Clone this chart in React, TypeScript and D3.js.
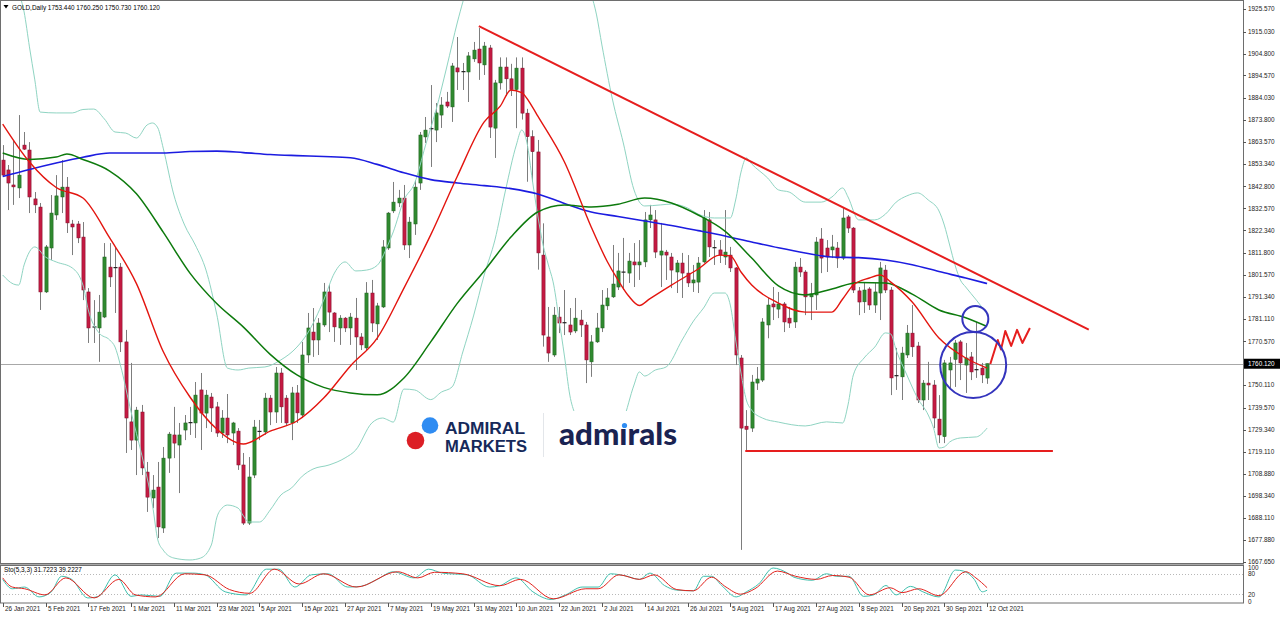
import React from 'react';
import * as d3 from 'd3';

// ---------- DATA ----------
const dateLabels = ["26 Jan 2021","5 Feb 2021","17 Feb 2021","1 Mar 2021","11 Mar 2021","23 Mar 2021","5 Apr 2021","15 Apr 2021","27 Apr 2021","7 May 2021","19 May 2021","31 May 2021","10 Jun 2021","22 Jun 2021","2 Jul 2021","14 Jul 2021","26 Jul 2021","5 Aug 2021","17 Aug 2021","27 Aug 2021","8 Sep 2021","20 Sep 2021","30 Sep 2021","12 Oct 2021"];
const priceTicks = [1925.57,1915.03,1904.80,1894.57,1884.03,1873.80,1863.57,1853.34,1842.80,1832.57,1822.34,1811.80,1801.57,1791.34,1781.11,1770.57,1750.11,1739.57,1729.34,1719.11,1708.88,1698.34,1688.11,1677.88,1667.65];
const lastPrice = 1760.12;
const header = "GOLD,Daily  1753.440 1760.250 1750.730 1760.120";
const stoHeader = "Sto(5,3,3) 31.7223 39.2227";

const opens = [
1855.1,1850.5,1843.5,1842.1,1862.1,1859.8,1837.0,1833.2,1793.6,1814.1,
1829.5,1837.9,1842.5,1825.3,1825.3,1819.2,1793.6,1777.3,1776.8,1781.9,
1805.2,1805.0,1805.2,1770.3,1733.0,1724.5,1737.6,1709.6,1697.5,1702.6,
1683.5,1716.1,1726.9,1722.2,1729.2,1732.7,1732.5,1747.9,1737.1,1744.6,
1740.0,1727.8,1734.8,1727.8,1728.7,1712.9,1685.8,1708.2,1728.6,1728.3,
1744.1,1737.6,1755.8,1744.1,1732.5,1746.5,1736.2,1764.2,1774.9,1771.2,
1778.2,1793.6,1783.8,1776.8,1781.4,1776.8,1781.4,1772.6,1767.5,1793.1,
1778.7,1786.6,1814.1,1831.4,1835.1,1837.4,1815.5,1825.3,1844.4,1865.9,
1869.4,1869.1,1876.1,1882.2,1879.9,1898.1,1896.4,1896.2,1902.3,1906.9,
1899.5,1907.4,1870.0,1891.1,1898.5,1893.0,1888.0,1898.0,1877.0,1866.0,
1858.9,1810.8,1772.6,1764.2,1781.9,1779.3,1778.2,1775.4,1780.5,1778.2,
1761.0,1770.3,1776.8,1787.1,1791.3,1795.9,1802.9,1802.4,1807.6,1806.2,
1807.6,1827.2,1827.2,1810.8,1812.2,1809.9,1802.9,1807.1,1802.4,1797.8,
1798.2,1807.6,1827.2,1814.3,1813.2,1809.9,1810.8,1804.8,1762.8,1731.0,
1730.1,1751.1,1752.5,1778.2,1788.0,1785.6,1788.0,1781.4,1779.6,1805.2,
1802.9,1791.3,1792.2,1818.3,1814.1,1813.2,1814.1,1809.4,1828.6,1823.4,
1794.1,1789.0,1795.0,1787.5,1793.1,1803.8,1794.5,1754.6,1754.0,1764.2,
1774.4,1768.4,1743.2,1751.1,1750.2,1734.3,1726.1,1757.2,1762.1,1770.3,
1759.5,1763.3,1757.4,1758.1,1753.44];
const highs = [
1862.1,1852.8,1864.5,1876.1,1868.2,1863.5,1840.2,1835.1,1815.5,1838.8,
1848.1,1855.1,1847.2,1827.2,1826.7,1826.2,1795.4,1789.8,1792.2,1816.4,
1816.4,1814.1,1807.1,1775.9,1760.5,1740.0,1740.9,1714.3,1708.2,1714.3,
1721.3,1728.3,1740.0,1732.5,1736.2,1740.0,1751.6,1755.8,1747.9,1746.5,
1742.3,1738.5,1746.0,1733.0,1730.1,1718.5,1716.6,1733.9,1733.9,1746.5,
1745.5,1758.6,1758.1,1745.5,1749.3,1750.2,1770.3,1783.8,1786.1,1781.4,
1797.8,1796.8,1784.2,1782.8,1781.9,1783.8,1790.8,1774.4,1798.2,1799.2,
1788.5,1817.8,1830.9,1844.9,1841.2,1843.5,1828.6,1845.8,1868.2,1875.2,
1890.1,1881.7,1884.5,1886.9,1900.4,1912.5,1900.4,1905.5,1910.2,1916.7,
1910.2,1908.8,1892.5,1903.0,1903.0,1900.0,1903.0,1903.0,1879.0,1869.0,
1864.5,1825.6,1786.6,1786.6,1786.6,1794.5,1786.1,1790.8,1785.2,1779.6,
1773.5,1783.8,1794.5,1795.4,1815.5,1811.8,1818.8,1811.8,1816.4,1817.8,
1830.9,1834.2,1831.8,1825.8,1813.2,1811.8,1808.5,1811.8,1810.8,1806.2,
1809.9,1831.8,1830.9,1817.8,1817.8,1831.8,1814.6,1805.2,1764.2,1738.5,
1754.9,1758.6,1781.4,1790.8,1795.9,1793.6,1788.9,1786.6,1807.6,1809.4,
1803.8,1797.8,1819.2,1823.4,1817.8,1820.2,1816.9,1833.2,1829.5,1823.9,
1795.9,1798.2,1795.9,1797.8,1807.6,1806.2,1795.9,1767.5,1768.0,1778.2,
1787.5,1770.3,1752.5,1761.0,1752.5,1745.5,1761.9,1763.3,1771.2,1771.2,
1769.8,1765.6,1779.6,1760.5,1760.25];
const lows = [
1847.2,1831.8,1834.2,1837.4,1859.8,1830.4,1830.4,1785.2,1793.1,1808.5,
1827.2,1830.4,1821.1,1810.8,1816.4,1789.8,1769.8,1769.8,1761.0,1781.4,
1795.9,1783.8,1765.6,1718.5,1719.9,1708.2,1708.2,1691.0,1692.8,1678.8,
1681.2,1709.2,1716.1,1699.8,1724.5,1726.9,1725.5,1719.9,1730.1,1728.3,
1726.0,1725.5,1723.1,1722.2,1710.6,1684.9,1684.9,1706.8,1724.5,1727.0,
1731.5,1732.5,1732.5,1731.5,1724.5,1732.5,1734.8,1760.5,1763.3,1764.2,
1777.3,1774.9,1770.3,1768.9,1774.9,1768.9,1757.2,1766.5,1766.5,1774.9,
1771.2,1786.1,1813.2,1830.4,1833.2,1813.2,1809.4,1820.2,1841.2,1863.1,
1851.9,1863.5,1870.1,1879.4,1872.9,1887.8,1887.8,1882.2,1900.9,1892.5,
1894.8,1865.4,1856.1,1888.0,1885.0,1885.0,1870.0,1874.0,1845.0,1845.0,
1804.0,1768.1,1761.0,1763.3,1774.4,1773.5,1773.5,1774.4,1772.6,1751.1,
1754.0,1769.8,1774.9,1785.2,1790.8,1794.5,1794.5,1797.8,1795.9,1799.2,
1805.2,1823.4,1809.4,1795.9,1799.2,1795.4,1793.1,1790.8,1795.9,1793.6,
1793.1,1807.1,1809.9,1806.2,1807.1,1806.2,1802.9,1759.5,1673.3,1719.0,
1728.3,1747.9,1751.6,1772.0,1780.5,1781.4,1774.9,1776.8,1776.8,1800.6,
1782.8,1780.5,1785.2,1802.4,1802.9,1809.4,1804.8,1808.5,1821.1,1793.1,
1782.8,1783.8,1785.2,1783.8,1780.5,1793.1,1745.5,1747.9,1743.2,1762.8,
1763.3,1741.8,1738.5,1743.2,1730.1,1723.1,1723.1,1748.8,1749.3,1752.5,
1746.5,1752.5,1753.5,1751.1,1750.73];
const closes = [
1848.1,1844.4,1842.6,1848.1,1860.2,1837.9,1834.2,1793.6,1814.6,1830.4,
1838.4,1842.5,1825.8,1823.9,1818.8,1794.5,1776.8,1776.8,1784.2,1809.9,
1800.6,1804.6,1770.3,1734.8,1724.5,1738.5,1711.5,1697.9,1701.2,1684.0,
1716.1,1727.3,1723.1,1726.9,1732.5,1732.3,1745.5,1737.1,1745.5,1739.5,
1727.8,1734.8,1726.9,1732.5,1712.9,1685.8,1707.3,1730.6,1728.3,1744.1,
1737.6,1755.8,1740.0,1732.5,1746.5,1737.2,1764.2,1776.8,1771.2,1779.1,
1793.6,1784.2,1777.3,1781.4,1776.8,1781.9,1772.6,1768.9,1793.1,1779.1,
1787.1,1814.6,1830.4,1835.5,1837.4,1815.5,1826.2,1842.5,1866.8,1869.1,
1869.8,1877.1,1880.8,1880.3,1899.0,1896.2,1896.0,1903.7,1906.4,1900.4,
1908.3,1870.5,1891.1,1898.5,1893.0,1888.0,1898.0,1877.0,1866.0,1859.0,
1811.8,1773.5,1765.1,1782.8,1779.1,1778.9,1774.9,1781.4,1778.2,1761.9,
1770.3,1776.8,1787.5,1790.8,1797.3,1803.4,1802.4,1808.0,1806.2,1807.6,
1827.2,1829.5,1812.2,1812.7,1810.8,1803.8,1807.1,1802.4,1797.8,1799.2,
1807.1,1828.1,1814.6,1813.9,1810.8,1812.2,1804.8,1764.2,1730.1,1729.5,
1751.6,1753.0,1779.6,1787.5,1786.6,1788.0,1779.6,1779.1,1805.2,1802.9,
1791.3,1792.7,1816.9,1809.4,1809.9,1814.6,1809.4,1828.1,1823.4,1794.5,
1788.9,1794.5,1787.5,1793.6,1804.8,1794.5,1753.5,1754.2,1765.1,1774.4,
1768.0,1743.2,1751.1,1750.2,1734.8,1726.9,1760.5,1760.5,1769.8,1760.5,
1762.8,1756.3,1757.0,1754.9,1760.12];

// moving averages: [bar index, price]
const maRed = [[0,1871.9],[5,1854.2],[10,1842.3],[15,1837.4],[20,1818.8],[25,1797.5],[30,1765.8],[35,1744.6],[40,1729.7],[45,1722.7],[50,1728.7],[55,1733.4],[60,1744.1],[65,1759.1],[70,1772.1],[75,1795.4],[80,1820.2],[85,1847.7],[90,1872.9],[93,1880.3],[95,1887.8],[97,1886.6],[99,1879.9],[100,1875.7],[105,1854.2],[110,1823.9],[113,1807.8],[115,1799.2],[117,1791.7],[119,1787.3],[121,1790.5],[125,1796.8],[130,1804.3],[134,1810.8],[136,1810.4],[138,1802.9],[140,1796.8],[145,1788.4],[150,1784.2],[155,1784.2],[157,1790.3],[159,1796.8],[162,1800.1],[164,1801.5],[166,1798.2],[170,1788.9],[175,1772.1],[180,1762.8],[184,1758.1]];
const maGreen = [[0,1858.4],[5,1855.4],[10,1856.5],[12,1857.9],[15,1855.4],[20,1850.0],[25,1839.4],[30,1821.5],[35,1802.4],[40,1788.2],[45,1777.2],[50,1764.5],[55,1754.9],[60,1749.1],[65,1746.5],[70,1745.6],[75,1753.5],[80,1770.3],[85,1788.4],[90,1803.4],[95,1819.2],[100,1830.9],[105,1834.2],[110,1833.2],[115,1834.5],[120,1837.4],[125,1835.1],[130,1829.5],[135,1822.0],[140,1809.4],[145,1796.4],[150,1792.2],[155,1795.0],[160,1798.0],[165,1797.8],[170,1792.6],[175,1785.2],[180,1781.6],[184,1777.5]];
const maBlue = [[0,1847.4],[5,1850.7],[10,1853.7],[15,1856.4],[20,1858.4],[25,1858.4],[30,1858.4],[35,1859.1],[40,1859.3],[45,1858.6],[50,1857.7],[55,1857.2],[60,1856.8],[65,1856.2],[70,1853.1],[75,1849.2],[80,1846.0],[85,1844.4],[90,1843.2],[95,1841.8],[100,1839.3],[105,1834.9],[110,1830.9],[115,1828.8],[120,1826.7],[125,1824.6],[130,1822.2],[135,1819.7],[140,1816.9],[145,1814.2],[150,1811.8],[155,1809.9],[160,1809.6],[165,1808.5],[170,1806.3],[175,1803.1],[180,1800.1],[184,1797.5]];
const bbUpper = [[0,1957.8],[3,1933.5],[4,1924.2],[5,1907.9],[6,1892.5],[7,1877.5],[10,1877.1],[13,1877.1],[15,1878.7],[17,1878.9],[19,1874.3],[21,1868.2],[23,1867.7],[25,1865.4],[27,1871.5],[28,1872.4],[29,1870.1],[30,1860.7],[32,1838.8],[34,1824.8],[36,1815.5],[38,1803.8],[40,1783.3],[42,1758.1],[44,1757.2],[46,1758.1],[49,1758.6],[52,1761.9],[55,1767.9],[57,1774.4],[60,1789.8],[62,1802.4],[64,1807.6],[66,1803.4],[68,1803.8],[70,1806.0],[72,1815.5],[73,1821.6],[75,1836.5],[77,1844.4],[79,1861.7],[81,1878.5],[83,1898.5],[85,1919.5],[87,1936.8],[90,1950.8],[95,1957.8],[100,1957.8],[105,1955.4],[109,1939.1],[111,1922.8],[112,1908.8],[114,1883.1],[116,1863.1],[118,1841.2],[120,1833.7],[123,1834.2],[125,1834.6],[128,1832.8],[130,1829.9],[133,1828.1],[136,1828.1],[137,1836.5],[138,1849.5],[139,1856.1],[140,1853.3],[143,1846.7],[145,1841.2],[147,1840.2],[150,1835.5],[153,1835.5],[155,1837.9],[157,1842.1],[158,1837.9],[160,1827.2],[163,1827.2],[165,1829.9],[167,1835.5],[169,1838.4],[171,1839.8],[173,1836.5],[175,1831.4],[176,1824.8],[177,1815.5],[178,1806.2],[179,1799.2],[180,1795.9],[182,1789.8],[184,1783.3]];
const bbLower = [[0,1801.5],[2,1797.3],[3,1796.8],[4,1806.2],[6,1814.6],[8,1809.9],[10,1807.6],[13,1804.8],[15,1796.8],[16,1785.2],[18,1774.5],[20,1771.2],[21,1767.9],[22,1759.5],[24,1737.6],[26,1717.5],[28,1694.2],[29,1677.9],[30,1673.2],[32,1669.5],[35,1668.6],[37,1669.5],[39,1675.6],[40,1688.2],[41,1692.8],[42,1694.2],[44,1692.8],[45,1689.1],[46,1686.3],[48,1686.3],[50,1691.9],[52,1698.9],[54,1702.2],[56,1707.7],[58,1711.0],[61,1712.9],[64,1716.2],[66,1719.9],[69,1732.5],[71,1734.8],[72,1733.9],[73,1732.9],[75,1748.3],[77,1747.9],[80,1743.4],[82,1746.9],[84,1749.3],[86,1765.6],[88,1782.4],[90,1801.5],[92,1817.8],[94,1841.2],[96,1862.1],[97,1869.1],[98,1863.1],[99,1845.8],[100,1829.5],[101,1815.5],[102,1806.2],[103,1796.8],[104,1780.5],[105,1763.7],[106,1745.5],[107,1736.2],[108,1729.2],[110,1723.1],[112,1721.3],[114,1725.5],[116,1733.9],[118,1750.2],[119,1756.3],[120,1754.4],[122,1757.2],[124,1758.6],[127,1771.2],[129,1779.6],[131,1786.1],[133,1793.1],[135,1793.1],[136,1787.5],[137,1771.2],[138,1755.8],[139,1743.2],[140,1738.5],[142,1734.8],[145,1732.9],[150,1731.1],[154,1733.0],[157,1732.5],[158,1740.9],[159,1754.9],[161,1762.8],[163,1767.9],[165,1774.5],[166,1774.0],[167,1766.5],[169,1754.9],[171,1744.1],[173,1736.2],[174,1730.1],[175,1720.8],[176,1721.3],[177,1723.6],[179,1725.5],[182,1726.0],[184,1730.1]];

// stochastic (5,3,3): [bar index, value]
const stoMain = [[0,63.6],[1.8,36],[4.1,41],[6.8,12],[9.1,27],[11,72.7],[12.9,63.6],[15.9,9],[17.9,13.6],[21,77],[24,13.6],[25.9,18],[29.4,13.6],[32.4,82],[35.5,82],[37.8,77],[41.6,27],[45.5,18],[49.3,93.6],[51.6,93.6],[54.6,41],[57.7,77],[60.8,80],[64.5,41],[66.9,43],[70,63.6],[73,86],[76.9,68],[79.6,93.6],[82.2,82],[86.8,77],[91,41],[92.9,45],[96,68],[99.1,27],[102.5,4.5],[105.2,18],[108.3,41],[111.3,41],[113.6,80],[116.7,72.7],[119,63.6],[121,82],[123.7,45.5],[126,32],[129.1,30],[131,72.7],[132.5,72.7],[134.4,45.5],[137.1,12],[139,27],[141.3,50],[144,97],[146.7,82],[147.9,70],[151.3,61],[154,80],[155.9,72.7],[158.2,72.7],[160.9,13.6],[162.8,18],[165.1,45.5],[167,18],[169.7,43],[172,27],[175,12],[178.1,91],[179.6,88],[181.6,63.6],[183.1,27],[184,31.7]];
const stoSignal = [[0,68],[1.8,41],[4.1,36],[7.9,18],[11.8,68],[17.1,9],[21.7,63.6],[24.8,18],[28.6,12],[34,80],[37.8,77],[42.4,33.6],[46.2,22.7],[50.8,93.6],[55.4,50],[60,80],[66.1,41],[73.8,86],[77.6,68],[80.7,84.5],[86,80],[92.9,45],[96.8,63.6],[102.9,6.4],[109,36],[111.3,36],[115.2,77],[119,63.6],[121.8,77],[126,33.6],[129.1,30],[132.5,70],[135.2,41],[137.9,20],[140.6,36],[144.8,88],[148.2,72.7],[152.1,63.6],[155.1,75],[158.2,70],[162,18],[165.9,39],[168.1,24.5],[171.2,36],[175,15.5],[180,86],[181.9,68],[184,39.2]];

// hand-drawn annotations (bar index, price)
const trendDown = [[89, 1917.6], [203, 1776.0]];
const supportLine = [[138.8, 1719.4], [196.3, 1719.4]];
const wMark = [[184.6,1760.0],[186.0,1771.2],[186.6,1766.8],[187.4,1775.4],[188.5,1768.4],[189.6,1775.9],[190.6,1769.8],[192.0,1776.8]];
const circles = [{ bar: 181.4, price: 1759.5, r: 33 }, { bar: 181.8, price: 1781.0, r: 13 }];

// ---------- LAYOUT ----------
const AXIS_X = 1243;
const MAIN_BOTTOM = 563;
const STO_TOP = 566;
const STO_BOTTOM = 603;
const FONT = "'Liberation Sans', Arial, sans-serif";

export default function App() {
  const x = d3.scaleLinear().domain([0, 184]).range([2.7, 987.1]);
  const y = d3.scaleLinear().domain([1667.65, 1925.57]).range([562, 9]);
  const ys = d3.scaleLinear().domain([0, 100]).range([601, 567]);

  const mk = (curve: any) => d3.line<number[]>().x(d => x(d[0])).y(d => y(d[1])).curve(curve);
  const smooth = mk(d3.curveMonotoneX);
  const straight = mk(d3.curveLinear);
  const stoLine = d3.line<number[]>().x(d => x(d[0])).y(d => ys(d[1])).curve(d3.curveMonotoneX);

  const candles = opens.map((o, i) => {
    const c = closes[i];
    const h = Math.max(highs[i], o, c);
    const l = Math.min(lows[i], o, c);
    const cx = Math.round(x(i)) + 0.5;
    const bull = c >= o;
    const doji = Math.abs(c - o) < 0.7;
    const top = y(Math.max(o, c));
    const bot = y(Math.min(o, c));
    return (
      <g key={i}>
        <line x1={cx} x2={cx} y1={y(h)} y2={y(l)} stroke="#7d7d7d" strokeWidth={1} />
        {doji ? (
          <rect x={cx - 2} y={top - 0.5} width={4} height={1.2} fill="#222" />
        ) : (
          <rect x={cx - 1.6} y={top} width={3.2} height={Math.max(1, bot - top)}
            fill={bull ? '#2f8a2f' : '#c41a42'} stroke={bull ? '#1c5e1c' : '#7d0f28'} strokeWidth={0.5} />
        )}
      </g>
    );
  });

  const lastY = y(lastPrice);

  return (
    <svg width={1280} height={617} viewBox="0 0 1280 617"
      style={{ position: 'fixed', left: 0, top: 0, background: '#fff' }} fontFamily={FONT}>
      <defs>
        <clipPath id="mainClip"><rect x={1} y={1} width={AXIS_X - 1} height={MAIN_BOTTOM - 1} /></clipPath>
        <clipPath id="stoClip"><rect x={1} y={STO_TOP} width={AXIS_X - 1} height={STO_BOTTOM - STO_TOP} /></clipPath>
      </defs>
      <rect x={0} y={0} width={1280} height={617} fill="#fff" />

      {/* main panel */}
      <g clipPath="url(#mainClip)">
        <line x1={0} x2={AXIS_X} y1={Math.round(lastY) + 0.5} y2={Math.round(lastY) + 0.5} stroke="#a8a8a8" strokeWidth={1} />
        {candles}
        <path d={smooth(bbUpper) || ''} fill="none" stroke="#8fd4c2" strokeWidth={1} />
        <path d={smooth(bbLower) || ''} fill="none" stroke="#8fd4c2" strokeWidth={1} />
        <path d={smooth(maBlue) || ''} fill="none" stroke="#1c1ce0" strokeWidth={1.6} />
        <path d={smooth(maGreen) || ''} fill="none" stroke="#0d7a0d" strokeWidth={1.5} />
        <path d={smooth(maRed) || ''} fill="none" stroke="#e3150f" strokeWidth={1.4} />
        <path d={straight(trendDown) || ''} fill="none" stroke="#e61e1e" strokeWidth={2} />
        <path d={straight(supportLine) || ''} fill="none" stroke="#e61e1e" strokeWidth={2} />
        <path d={straight(wMark) || ''} fill="none" stroke="#e61e1e" strokeWidth={2} strokeLinejoin="round" />
        {circles.map((c, i) => (
          <circle key={i} cx={x(c.bar)} cy={y(c.price)} r={c.r} fill="none" stroke="#3434bd" strokeWidth={2} />
        ))}

        {/* logo */}
        <rect x={402} y={411} width={290} height={52} fill="#fff" />
        <circle cx={430} cy={425.5} r={8.3} fill="#2f8cf2" />
        <circle cx={415.5} cy={440.5} r={8.8} fill="#dc1f26" />
        <text x={445} y={433.5} fontFamily="'Liberation Sans', Arial, sans-serif" fontWeight={700} fontSize={16}
          fill="#16295a" textLength={80} lengthAdjust="spacingAndGlyphs">ADMIRAL</text>
        <text x={445} y={451.5} fontFamily="'Liberation Sans', Arial, sans-serif" fontWeight={700} fontSize={16}
          fill="#16295a" textLength={82} lengthAdjust="spacingAndGlyphs">MARKETS</text>
        <line x1={543.5} x2={543.5} y1={413} y2={457} stroke="#e3e6ea" strokeWidth={1} />
        <text x={559} y={445} fontFamily="Lato, 'Open Sans', sans-serif" fontWeight={900} fontSize={30}
          fill="#1a2352" textLength={118} lengthAdjust="spacingAndGlyphs">admırals</text>
        <circle cx={624.5} cy={425.5} r={2.6} fill="#2f8cf2" />

        <text x={12} y={9.5} fontSize={6.4} fill="#000">{header}</text>
        <path d="M3.5,5 L8.5,5 L6,8.5 Z" fill="#000" />
      </g>

      {/* separator */}
      <rect x={0} y={MAIN_BOTTOM} width={AXIS_X + 1} height={3} fill="#a9a9a9" />

      {/* stochastic panel */}
      <g clipPath="url(#stoClip)">
        {[80, 20].map(v => (
          <line key={v} x1={0} x2={AXIS_X} y1={Math.round(ys(v)) + 0.5} y2={Math.round(ys(v)) + 0.5}
            stroke="#b8b8b8" strokeWidth={1} strokeDasharray="1,2" />
        ))}
        <path d={stoLine(stoMain) || ''} fill="none" stroke="#3fc0ae" strokeWidth={1} />
        <path d={stoLine(stoSignal) || ''} fill="none" stroke="#e2231e" strokeWidth={1} />
        <text x={4} y={572} fontSize={6.4} fill="#000">{stoHeader}</text>
      </g>

      {/* frames */}
      <rect x={0.5} y={0.5} width={AXIS_X} height={MAIN_BOTTOM} fill="none" stroke="#6e6e6e" strokeWidth={1} />
      <rect x={0.5} y={STO_TOP - 0.5} width={AXIS_X} height={STO_BOTTOM - STO_TOP + 0.5} fill="none" stroke="#6e6e6e" strokeWidth={1} />

      {/* right price axis */}
      {priceTicks.map((p, i) => (
        <g key={i}>
          <line x1={AXIS_X} x2={AXIS_X + 3} y1={Math.round(y(p)) + 0.5} y2={Math.round(y(p)) + 0.5} stroke="#555" />
          <text x={AXIS_X + 5} y={y(p) + 2.3} fontSize={6.4} fill="#222">{p.toFixed(3)}</text>
        </g>
      ))}
      <rect x={AXIS_X + 1} y={lastY - 5} width={36} height={10} fill="#000" />
      <text x={AXIS_X + 5} y={lastY + 2.3} fontSize={6.4} fill="#fff">{lastPrice.toFixed(3)}</text>

      {/* stochastic axis */}
      <text x={AXIS_X + 5} y={ys(100) + 2.5} fontSize={6.4} fill="#222">100</text>
      <text x={AXIS_X + 5} y={ys(80) + 2.5} fontSize={6.4} fill="#222">80</text>
      <text x={AXIS_X + 5} y={ys(20) + 2.5} fontSize={6.4} fill="#222">20</text>
      <text x={AXIS_X + 5} y={ys(0) + 2.5} fontSize={6.4} fill="#222">0</text>

      {/* time axis */}
      {dateLabels.map((d, i) => {
        const bx = Math.round(x(i * 8)) + 0.5;
        return (
          <g key={d}>
            <line x1={bx} x2={bx} y1={STO_BOTTOM} y2={STO_BOTTOM + 4} stroke="#555" />
            <text x={bx + 1.5} y={611} fontSize={6.4} fill="#222">{d}</text>
          </g>
        );
      })}
    </svg>
  );
}
